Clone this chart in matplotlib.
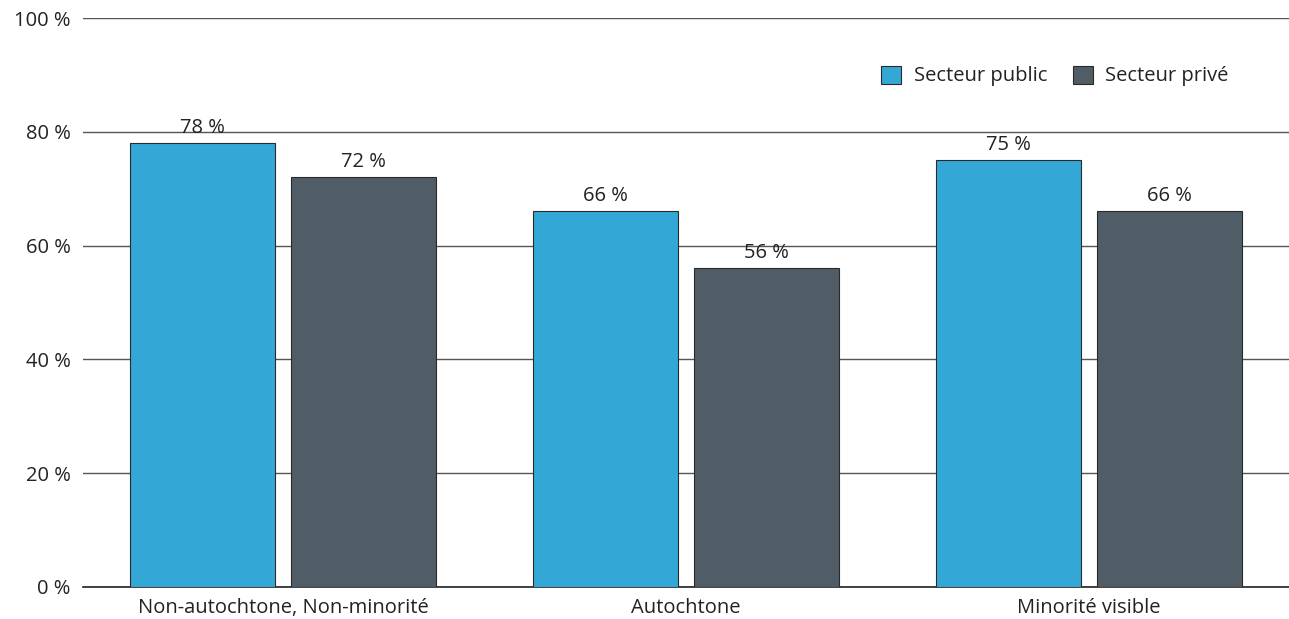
import numpy as np
import matplotlib.pyplot as plt

plt.rcParams['font.family'] = ['Open Sans', 'DejaVu Sans']

categories = ['Non-autochtone, Non-minorité', 'Autochtone', 'Minorité visible']
public_vals = [78, 66, 75]
private_vals = [72, 56, 66]
series_names = ['Secteur public', 'Secteur privé']
y_ticks = [0, 20, 40, 60, 80, 100]

COL_PUBLIC = '#33a8d6'
COL_PRIVATE = '#515d66'
TEXT_COL = '#222222'
FS = 14.5

fig = plt.figure(figsize=(12.89, 6.19), dpi=100)
ax = fig.add_axes([83 / 1289, 32 / 619, 1206 / 1289, 569 / 619])

x = np.arange(len(categories))
width = 0.36
offset = 0.2

bars_pub = ax.bar(x - offset, public_vals, width, color=COL_PUBLIC,
                  edgecolor='#2a2a2a', linewidth=0.8, label=series_names[0], zorder=3)
bars_priv = ax.bar(x + offset, private_vals, width, color=COL_PRIVATE,
                   edgecolor='#2a2a2a', linewidth=0.8, label=series_names[1], zorder=3)

for bars, vals in ((bars_pub, public_vals), (bars_priv, private_vals)):
    for b, v in zip(bars, vals):
        ax.annotate(f'{v} %', (b.get_x() + b.get_width() / 2, v),
                    xytext=(0, 4), textcoords='offset points',
                    ha='center', va='bottom', fontsize=FS, color=TEXT_COL, zorder=4)

ax.set_xlim(-0.496, 2.496)
ax.set_ylim(0, 100)
ax.set_yticks(y_ticks)
ax.set_yticklabels([f'{t} %' for t in y_ticks], fontsize=FS, color=TEXT_COL)
ax.set_xticks(x)
ax.set_xticklabels(categories, fontsize=FS, color=TEXT_COL)
ax.tick_params(axis='both', length=0)
ax.tick_params(axis='x', pad=8)
ax.tick_params(axis='y', pad=9)

ax.yaxis.grid(True, color='#555555', linewidth=1.0, zorder=0)
ax.set_axisbelow(True)
for side in ('top', 'right', 'left'):
    ax.spines[side].set_visible(False)
ax.spines['bottom'].set_color('#222222')
ax.spines['bottom'].set_linewidth(1.2)

leg = ax.legend(loc='center right', bbox_to_anchor=(0.965, 0.898), ncol=2,
                frameon=False, fontsize=FS, handlelength=1.0, handleheight=1.0,
                columnspacing=1.3, handletextpad=0.6)
for t in leg.get_texts():
    t.set_color(TEXT_COL)

fig.savefig('out.png', dpi=100)
